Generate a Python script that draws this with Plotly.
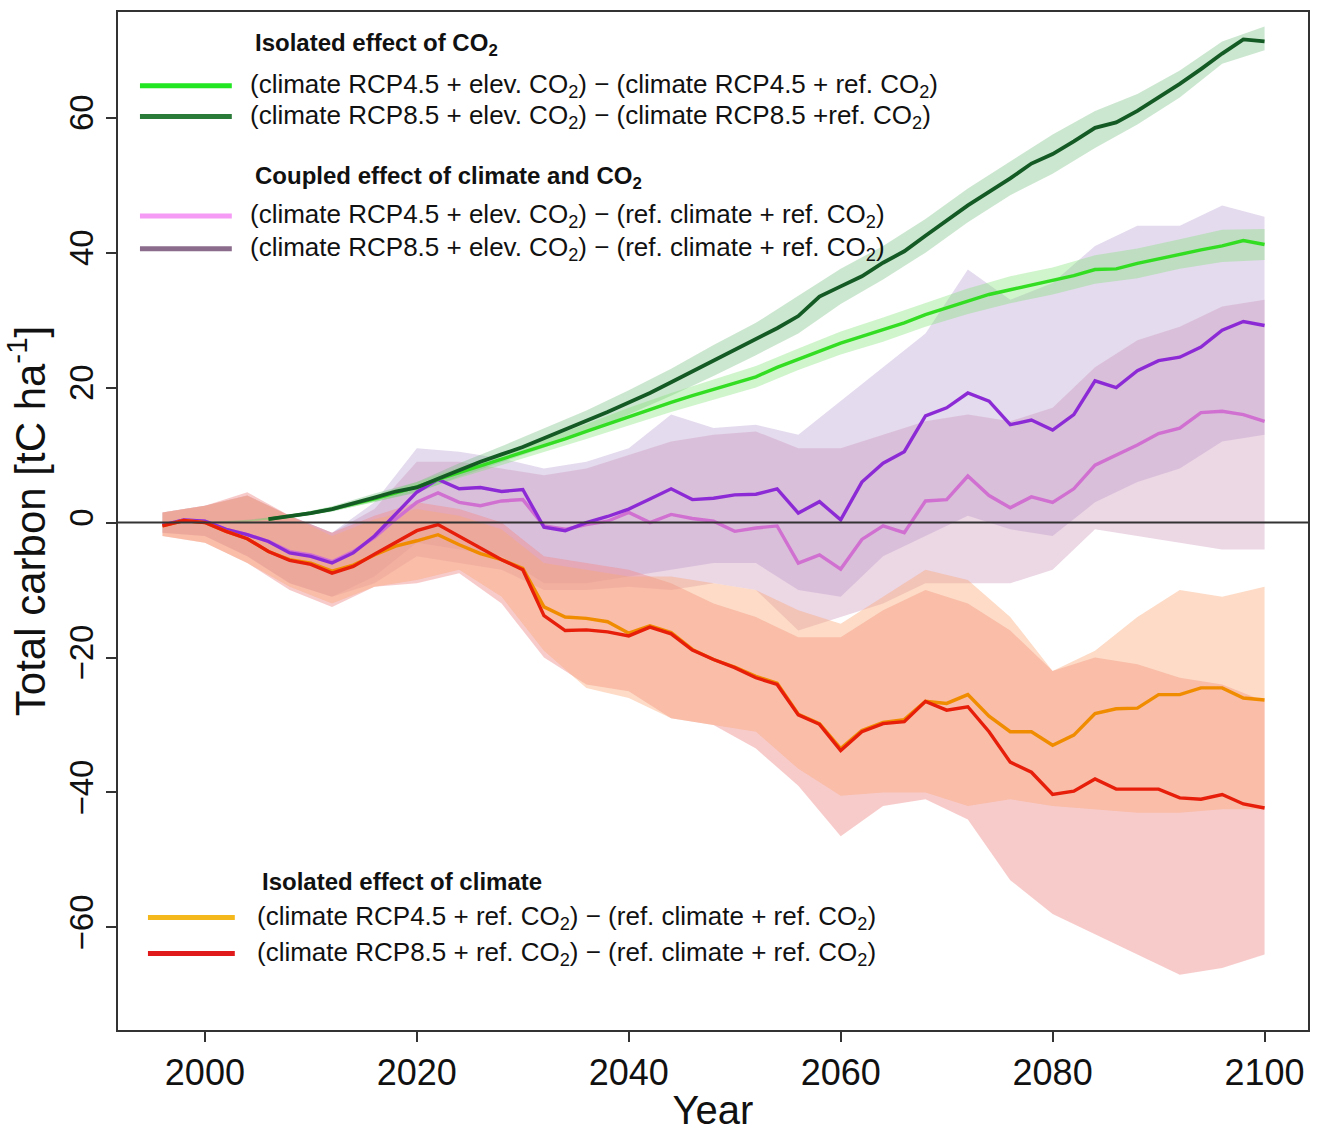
import plotly.graph_objects as go

# ---------------- data ----------------
YEARS = list(range(1996, 2101, 2))          # mean lines, 2-year steps
GREEN_YEARS = list(range(2006, 2101, 2))
BAND_YEARS = list(range(1996, 2101, 4))     # uncertainty bands, 4-year steps

co2_rcp45 = [0.5, 0.9, 1.4, 2.0, 2.7, 3.5, 4.4, 5.3, 6.4, 7.4, 8.4, 9.4, 10.3, 11.4, 12.4, 13.5,
             14.6, 15.7, 16.8, 17.8, 18.8, 19.7, 20.6, 21.6, 23.0, 24.2, 25.5, 26.6, 27.6, 28.6,
             29.6, 30.8, 31.8, 32.8, 33.8, 34.5, 35.2, 35.8, 36.6, 37.5, 37.6, 38.4, 39.1, 39.8,
             40.4, 41.0, 41.8, 41.2]
co2_rcp85 = [0.5, 0.9, 1.4, 2.0, 2.8, 3.7, 4.6, 5.2, 6.5, 7.8, 9.0, 10.1, 11.2, 12.5, 13.8, 15.0,
             16.4, 17.8, 19.2, 20.8, 22.4, 24.0, 25.6, 27.2, 28.8, 30.6, 33.5, 35.0, 36.5, 38.5,
             40.2, 42.5, 44.8, 47.0, 49.0, 51.0, 53.2, 54.6, 56.5, 58.5, 59.3, 61.0, 63.0, 65.0,
             67.2, 69.5, 71.6, 71.3]

coupled_rcp45 = [-0.4, 0.4, 0.2, -1.0, -1.8, -2.8, -4.3, -4.8, -5.8, -4.3, -2.2, 0.5, 3.0, 4.4,
                 3.0, 2.5, 3.2, 3.4, -0.5, -1.0, -0.3, 0.2, 1.5, 0.0, 1.2, 0.6, 0.2, -1.3, -0.8,
                 -0.5, -6.0, -4.8, -6.9, -2.5, -0.5, -1.5, 3.2, 3.4, 6.9, 4.0, 2.2, 3.8, 3.0, 5.0,
                 8.5, 10.0, 11.5, 13.2, 14.0, 16.3, 16.5, 16.0, 15.0]
coupled_rcp85 = [-0.4, 0.4, 0.2, -1.0, -1.8, -2.8, -4.5, -5.0, -6.0, -4.5, -2.0, 1.3, 4.5, 6.4,
                 5.0, 5.2, 4.6, 4.9, -0.7, -1.2, 0.0, 0.9, 2.0, 3.5, 5.0, 3.4, 3.6, 4.1, 4.2,
                 5.0, 1.4, 3.1, 0.4, 6.0, 8.8, 10.5, 15.8, 17.0, 19.2, 18.0, 14.5, 15.2, 13.7,
                 16.0, 21.0, 20.0, 22.5, 24.0, 24.5, 26.0, 28.5, 29.8, 29.2]

climate_rcp45 = [-0.5, 0.3, 0.0, -1.3, -2.4, -4.3, -5.5, -6.0, -7.2, -6.3, -4.8, -3.5, -2.7, -1.8,
                 -3.3, -4.6, -5.5, -6.8, -12.5, -14.0, -14.2, -14.7, -16.4, -15.3, -16.3, -18.8,
                 -20.3, -21.4, -22.8, -23.8, -28.4, -29.8, -33.5, -30.8, -29.6, -29.2, -26.5,
                 -26.8, -25.5, -28.7, -31.0, -31.0, -33.0, -31.5, -28.3, -27.6, -27.5, -25.5,
                 -25.5, -24.5, -24.5, -26.0, -26.3]
climate_rcp85 = [-0.5, 0.3, 0.0, -1.3, -2.4, -4.3, -5.6, -6.2, -7.5, -6.5, -4.7, -3.0, -1.2, -0.3,
                 -2.0, -3.7, -5.5, -7.0, -13.8, -16.0, -15.9, -16.2, -16.8, -15.5, -16.5, -18.9,
                 -20.3, -21.5, -23.0, -24.0, -28.5, -29.9, -33.8, -31.0, -29.8, -29.5, -26.5,
                 -27.8, -27.3, -31.0, -35.5, -37.0, -40.3, -39.8, -38.0, -39.5, -39.5, -39.5,
                 -40.8, -41.0, -40.3, -41.7, -42.3]

# band limits (27 values, 1996..2100 every 4 years)
co2_rcp45_lo = [0, 0, 0.1, 0.7, 1.7, 3.0, 4.6, 6.6, 8.5, 10.4, 12.4, 14.4, 16.4, 18.2, 20.0, 22.6,
                24.9, 26.8, 29.0, 30.9, 32.5, 33.8, 35.4, 36.2, 37.6, 38.6, 38.9]
co2_rcp45_hi = [0, 0, 0.3, 1.1, 2.3, 4.0, 6.0, 8.2, 10.3, 12.4, 14.6, 17.0, 19.2, 21.2, 23.2, 25.8,
                28.3, 30.4, 32.6, 34.7, 36.5, 37.8, 39.6, 40.6, 42.0, 43.4, 43.5]
co2_rcp85_lo = [0, 0.1, 0.2, 0.7, 1.6, 3.1, 4.4, 6.8, 8.9, 11.1, 13.4, 16.0, 18.8, 21.7, 24.8, 28.0,
                32.4, 36.0, 40.0, 44.5, 48.5, 51.7, 55.5, 59.0, 63.0, 68.0, 70.0]
co2_rcp85_hi = [0, 0.1, 0.4, 1.1, 2.4, 4.3, 6.0, 8.8, 11.3, 13.9, 16.6, 19.6, 22.8, 26.3, 29.6, 33.6,
                37.6, 41.0, 45.0, 49.5, 53.5, 57.5, 61.0, 63.5, 67.0, 71.3, 73.5]

coupled_rcp45_lo = [-1.5, -2.0, -5.0, -9.0, -11.0, -9.0, -5.0, -6.0, -7.0, -10.0, -10.0, -9.5, -10.0,
                    -9.0, -10.0, -16.0, -14.0, -12.0, -9.0, -9.0, -9.0, -7.0, -1.0, -2.0, -3.0, -4.0,
                    -4.0]
coupled_rcp45_hi = [1.5, 2.5, 4.0, 1.0, -1.5, 2.0, 9.0, 9.0, 8.0, 7.0, 8.0, 10.0, 12.0, 13.0, 13.5,
                    11.0, 11.0, 13.0, 15.0, 16.0, 15.0, 17.0, 23.0, 27.0, 29.0, 32.0, 33.0]
coupled_rcp85_lo = [-1.5, -2.0, -5.0, -9.0, -11.0, -8.0, -3.0, -4.0, -5.0, -9.0, -9.0, -8.0, -7.0,
                    -6.0, -6.0, -10.0, -11.0, -5.0, -2.0, 1.0, -1.0, -2.0, 3.0, 6.0, 8.0, 12.0, 13.0]
coupled_rcp85_hi = [1.5, 2.5, 4.0, 1.0, -1.5, 3.0, 11.0, 10.5, 9.5, 8.0, 9.0, 11.0, 16.0, 14.0, 14.5,
                    13.0, 18.0, 23.0, 28.0, 37.5, 33.0, 35.5, 41.0, 44.0, 44.0, 47.0, 45.3]

climate_rcp45_lo = [-2.0, -3.0, -6.0, -9.5, -12.0, -9.5, -8.5, -7.0, -11.0, -19.0, -24.5, -26.0,
                    -29.0, -30.0, -31.0, -36.5, -40.5, -40.0, -40.0, -42.0, -41.0, -42.0, -42.5,
                    -43.0, -43.0, -42.5, -42.5]
climate_rcp45_hi = [1.5, 2.5, 4.0, 1.0, -2.0, 0.5, 2.0, 1.0, -1.0, -6.0, -7.0, -8.0, -8.0, -9.0,
                    -10.0, -13.0, -15.0, -11.0, -7.0, -8.5, -14.0, -22.0, -19.0, -14.0, -10.0,
                    -11.0, -9.5]
climate_rcp85_lo = [-2.0, -3.0, -6.0, -10.0, -12.5, -9.5, -9.0, -7.5, -12.0, -20.0, -24.0, -25.0,
                    -29.0, -30.0, -33.5, -39.0, -46.5, -42.0, -41.0, -44.0, -53.0, -58.0, -61.0,
                    -64.0, -67.0, -66.0, -64.0]
climate_rcp85_hi = [1.5, 2.5, 4.5, 1.0, -1.5, 1.0, 3.0, 2.0, 0.0, -5.0, -6.0, -7.0, -9.0, -12.0,
                    -14.0, -17.0, -17.0, -13.0, -10.0, -12.0, -16.0, -22.0, -20.0, -21.0, -23.0,
                    -24.0, -26.5]

X_TICKS = [2000, 2020, 2040, 2060, 2080, 2100]
Y_TICKS = [-60, -40, -20, 0, 20, 40, 60]

# ---------------- layout geometry (pixels) ----------------
W, H = 1318, 1133
L, R, T, B = 118, 1310, 12, 1035   # plot area edges in page pixels
X_RANGE = [1991.8, 2104.1]
Y_RANGE = [-75.2, 75.66]

REG = "Liberation Sans, Arial, sans-serif"


def px(xp):
    return (xp - L) / (R - L)


def py(yp):
    return (B - yp) / (B - T)


fig = go.Figure()


def band(x, lo, hi, color):
    fig.add_trace(go.Scatter(x=x, y=lo, mode="lines", line=dict(width=0), hoverinfo="skip",
                             showlegend=False))
    fig.add_trace(go.Scatter(x=x, y=hi, mode="lines", line=dict(width=0), fill="tonexty",
                             fillcolor=color, hoverinfo="skip", showlegend=False))


band(BAND_YEARS, coupled_rcp85_lo, coupled_rcp85_hi, "rgba(190,170,215,0.42)")
band(BAND_YEARS, coupled_rcp45_lo, coupled_rcp45_hi, "rgba(200,140,180,0.35)")
band(BAND_YEARS, climate_rcp85_lo, climate_rcp85_hi, "rgba(240,140,140,0.45)")
band(BAND_YEARS, climate_rcp45_lo, climate_rcp45_hi, "rgba(250,170,120,0.42)")
band(BAND_YEARS, co2_rcp85_lo, co2_rcp85_hi, "rgba(110,185,120,0.35)")
band(BAND_YEARS, co2_rcp45_lo, co2_rcp45_hi, "rgba(120,225,110,0.35)")


def line(x, y, color, w=3.4):
    fig.add_trace(go.Scatter(x=x, y=y, mode="lines", line=dict(color=color, width=w),
                             showlegend=False, hoverinfo="x+y"))


line(YEARS, coupled_rcp45, "#d070d0")
line(YEARS, coupled_rcp85, "#8c2bd6")
line(YEARS, climate_rcp45, "#f08c00")
line(YEARS, climate_rcp85, "#e61e0a")
line(GREEN_YEARS, co2_rcp45, "#33dd22")
line(GREEN_YEARS, co2_rcp85, "#145a25", 3.8)

# zero line
shapes = [dict(type="line", xref="paper", yref="y", x0=0, x1=1, y0=0, y1=0,
               line=dict(color="#333333", width=2), layer="above")]

# ---------------- custom legend ----------------
annotations = []
CO2 = "CO<sub>2</sub>"
ROW_SIZE = 26
HEAD_SIZE = 24
groups = [
    dict(header="<b>Isolated effect of " + CO2 + "</b>", hx=253, hy=45, sx0=140, sx1=232, tx=248,
         rows=[(86, "#22e622", "(climate RCP4.5 + elev. " + CO2 + ") \u2212 (climate RCP4.5 + ref. " + CO2 + ")"),
               (117, "#2a7a3a", "(climate RCP8.5 + elev. " + CO2 + ") \u2212 (climate RCP8.5 +ref. " + CO2 + ")")]),
    dict(header="<b>Coupled effect of climate and " + CO2 + "</b>", hx=253, hy=178, sx0=140, sx1=232, tx=248,
         rows=[(217, "#f59af5", "(climate RCP4.5 + elev. " + CO2 + ") \u2212 (ref. climate + ref. " + CO2 + ")"),
               (250, "#8c6c8c", "(climate RCP8.5 + elev. " + CO2 + ") \u2212 (ref. climate + ref. " + CO2 + ")")]),
    dict(header="<b>Isolated effect of climate</b>", hx=260, hy=886, sx0=148, sx1=235, tx=255,
         rows=[(922, "#f4b81c", "(climate RCP4.5 + ref. " + CO2 + ") \u2212 (ref. climate + ref. " + CO2 + ")"),
               (958, "#e01a1a", "(climate RCP8.5 + ref. " + CO2 + ") \u2212 (ref. climate + ref. " + CO2 + ")")]),
]
for g in groups:
    annotations.append(dict(x=px(g["hx"]), y=py(g["hy"]), xref="paper", yref="paper", text=g["header"],
                            showarrow=False, xanchor="left", yanchor="middle",
                            font=dict(family=REG, size=HEAD_SIZE, color="#111")))
    for (yy, col, txt) in g["rows"]:
        shapes.append(dict(type="line", xref="paper", yref="paper", x0=px(g["sx0"]), x1=px(g["sx1"]),
                           y0=py(yy), y1=py(yy), line=dict(color=col, width=5)))
        annotations.append(dict(x=px(g["tx"]), y=py(yy), xref="paper", yref="paper", text=txt,
                                showarrow=False, xanchor="left", yanchor="middle",
                                font=dict(family=REG, size=ROW_SIZE, color="#111")))

fig.update_layout(
    width=W, height=H,
    margin=dict(l=L, r=W - R, t=T, b=H - B, pad=0),
    paper_bgcolor="white", plot_bgcolor="white",
    shapes=shapes, annotations=annotations,
    showlegend=False,
    xaxis=dict(range=X_RANGE, tickmode="array", tickvals=X_TICKS, ticks="outside", ticklen=10,
               tickwidth=2, tickcolor="#333", showgrid=False, zeroline=False,
               showline=True, linecolor="#333", linewidth=2, mirror=True,
               tickfont=dict(family=REG, size=36, color="#111"),
               title=dict(text="Year", font=dict(family=REG, size=40, color="#111"), standoff=4)),
    yaxis=dict(range=Y_RANGE, tickmode="array", tickvals=Y_TICKS,
               ticktext=["\u221260", "\u221240", "\u221220", "0", "20", "40", "60"],
               ticks="outside", ticklen=10, tickwidth=2, tickcolor="#333", tickangle=-90,
               showgrid=False, zeroline=False, showline=True, linecolor="#333", linewidth=2,
               mirror=True, tickfont=dict(family=REG, size=33, color="#111"),
               title=dict(text="Total carbon [tC ha<sup>-1</sup>]",
                          font=dict(family=REG, size=42, color="#111"), standoff=8)),
)

fig.write_html("out.html")
